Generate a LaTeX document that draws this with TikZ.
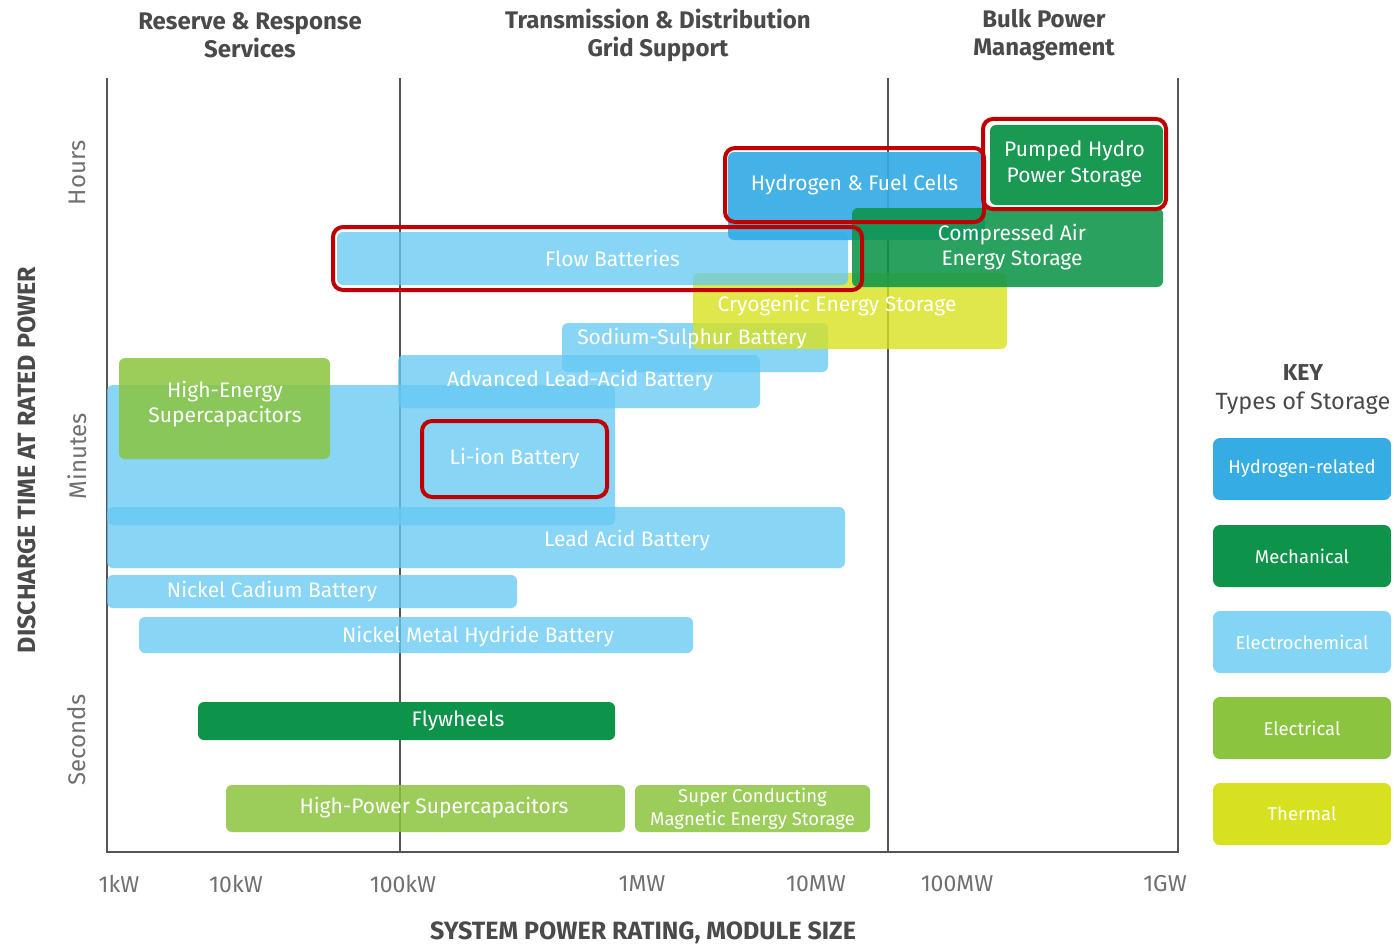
\documentclass[tikz,border=0pt]{standalone}
\usepackage{fontspec}
\setmainfont{Fira Sans}
\definecolor{ElecChem}{HTML}{65C9F4}
\definecolor{Hydro}{HTML}{35ACE4}
\definecolor{Mech}{HTML}{0E944A}
\definecolor{Electr}{HTML}{8BC53F}
\definecolor{Therm}{HTML}{D8E11F}
\definecolor{RedBox}{HTML}{C00000}
\definecolor{AxisGray}{HTML}{555555}
\definecolor{LblGray}{HTML}{707070}
\definecolor{HeadGray}{HTML}{4A4A4A}
\begin{document}
\begin{tikzpicture}[x=1pt,y=-1pt,
  box/.style={rounded corners=6pt, inner sep=0pt, text=white, text opacity=1, align=center,
    font=\fontsize{21}{25}\selectfont},
  elchem/.style={box, fill=ElecChem, fill opacity=0.77},
  hydro/.style={box, fill=Hydro, fill opacity=0.92},
  mech/.style={box, fill=Mech, fill opacity=0.88},
  electr/.style={box, fill=Electr, fill opacity=0.85},
  therm/.style={box, fill=Therm, fill opacity=0.8},
  lbl/.style={text=white, inner sep=0pt, align=center, font=\fontsize{21}{25}\selectfont},
  redbox/.style={draw=RedBox, line width=4pt, rounded corners=10pt, inner sep=0pt, text=white, align=center, font=\fontsize{21}{26}\selectfont},
  grid/.style={draw=AxisGray, line width=1.6pt},
  head/.style={text=HeadGray, align=center, font=\bfseries\fontsize{24}{28}\selectfont},
  title/.style={text=HeadGray, font=\bfseries\fontsize{25}{28}\selectfont},
  tick/.style={text=LblGray, font=\fontsize{23}{26}\selectfont},
  keybox/.style={rounded corners=7pt, inner sep=0pt, minimum width=178pt, minimum height=62pt, text=white, font=\fontsize{18.5}{22}\selectfont}
]
\useasboundingbox (0,0) rectangle (1394,947);
\fill[white] (0,0) rectangle (1394,947);

% axes and separators
\coordinate (a0t) at (107,78);
\coordinate (a0b) at (107,852);
\coordinate (a1t) at (400,78);
\coordinate (a1b) at (400,852);
\coordinate (a2t) at (888,78);
\coordinate (a2b) at (888,852);
\coordinate (a3t) at (1178,78);
\coordinate (a3b) at (1178,852);
\draw[grid] (a0t) -- (a0b) -- (a3b) -- (a3t);
\draw[grid] (a1t) -- (a1b);
\draw[grid] (a2t) -- (a2b);

% headings
\node[head] (h1) at (250,35) {Reserve \& Response\\Services};
\node[head] (h2) at (658,35) {Transmission \& Distribution\\Grid Support};
\node[head] (h3) at (1044,35) {Bulk Power\\Management};

% y axis labels
\node[tick, rotate=90, font=\fontsize{24}{26}\selectfont] (hours) at (77,173) {Hours};
\node[tick, rotate=90, font=\fontsize{24}{26}\selectfont] (minutes) at (77,456) {Minutes};
\node[tick, rotate=90, font=\fontsize{24}{26}\selectfont] (seconds) at (77,740) {Seconds};
\node[title, rotate=90] (ytitle) at (27,460) {DISCHARGE TIME AT RATED POWER};

% x axis labels
\node[tick] (t1) at (119,884) {1kW};
\node[tick] (t2) at (236,884) {10kW};
\node[tick] (t3) at (403,884) {100kW};
\node[tick] (t4) at (642,884) {1MW};
\node[tick] (t5) at (816,884) {10MW};
\node[tick] (t6) at (957,884) {100MW};
\node[tick] (t7) at (1165,884) {1GW};
\node[title] (xtitle) at (643,933) {SYSTEM POWER RATING, MODULE SIZE};

% electrochemical boxes
\node[elchem, minimum width=738pt, minimum height=61pt] (leadacid) at (476,537.5) {};
\node[elchem, minimum width=508pt, minimum height=140pt] (liion) at (361,455) {};
\node[elchem, minimum width=362pt, minimum height=53pt] (adv) at (579,381.5) {};
\node[elchem, minimum width=266pt, minimum height=49pt] (nas) at (695,347.5) {};
\node[elchem, minimum width=410pt, minimum height=33pt] (nicd) at (312,591.5) {};
\node[elchem, minimum width=554pt, minimum height=36pt] (nimh) at (416,635) {};

% thermal
\node[therm, minimum width=314pt, minimum height=76pt] (cryo) at (850,311) {};
% flow batteries
\node[elchem, minimum width=511pt, minimum height=53pt] (flow) at (592.5,258.5) {};
% hydrogen
\node[hydro, minimum width=257pt, minimum height=88pt] (h2box) at (856.5,196) {};
% mechanical
\node[mech, minimum width=311pt, minimum height=79pt] (caes) at (1007.5,247.5) {};
\node[mech, minimum width=173pt, minimum height=80pt, fill opacity=0.95] (phs) at (1076.5,165) {};
\node[mech, minimum width=417pt, minimum height=38pt, fill opacity=1] (fly) at (406.5,721) {};
% electrical
\node[electr, minimum width=211pt, minimum height=101pt] (hesc) at (224.5,408.5) {};
\node[electr, minimum width=399pt, minimum height=47pt] (hpsc) at (425.5,808.5) {};
\node[electr, minimum width=235pt, minimum height=47pt, font=\fontsize{18.5}{23}\selectfont] (smes) at (752.5,808.5) {Super Conducting\\Magnetic Energy Storage};

% box texts
\node[lbl] (leadacidT) at (627,541) {Lead Acid Battery};
\node[lbl] (advT) at (580,381) {Advanced Lead-Acid Battery};
\node[lbl] (nasT) at (692,339) {Sodium-Sulphur Battery};
\node[lbl] (nicdT) at (272,592) {Nickel Cadium Battery};
\node[lbl] (nimhT) at (478,637) {Nickel Metal Hydride Battery};
\node[lbl] (cryoT) at (837,306) {Cryogenic Energy Storage};
\node[lbl] (caesT) at (1012,247) {Compressed Air\\Energy Storage};
\node[lbl] (hescT) at (225,404) {High-Energy\\Supercapacitors};
\node[lbl] (flyT) at (458,721) {Flywheels};
\node[lbl] (hpscT) at (434,808) {High-Power Supercapacitors};

% highlighted boxes
\node[redbox, minimum width=183pt, minimum height=90pt] (rphs) at (1074.5,164) {Pumped Hydro\\Power Storage};
\node[redbox, minimum width=259pt, minimum height=74pt] (rh2) at (854.5,185) {Hydrogen \& Fuel Cells};
\node[redbox, minimum width=529pt, minimum height=63pt] (rflow) at (597.5,258.5) {\hspace*{30pt}Flow Batteries};
\node[redbox, minimum width=185pt, minimum height=76pt] (rli) at (514.5,459) {Li-ion Battery};

% key
\node[head, font=\bfseries\fontsize{23}{26}\selectfont] (key) at (1303,373) {KEY};
\node[tick, text=HeadGray, font=\fontsize{23.5}{26}\selectfont] (keysub) at (1303,403) {Types of Storage};
\node[keybox, fill=Hydro] (k1) at (1302,469) {Hydrogen-related};
\node[keybox, fill=Mech] (k2) at (1302,556) {Mechanical};
\node[keybox, fill=ElecChem!80!white] (k3) at (1302,642) {Electrochemical};
\node[keybox, fill=Electr] (k4) at (1302,728) {Electrical};
\node[keybox, fill=Therm] (k5) at (1302,814) {Thermal};
\end{tikzpicture}
\end{document}
